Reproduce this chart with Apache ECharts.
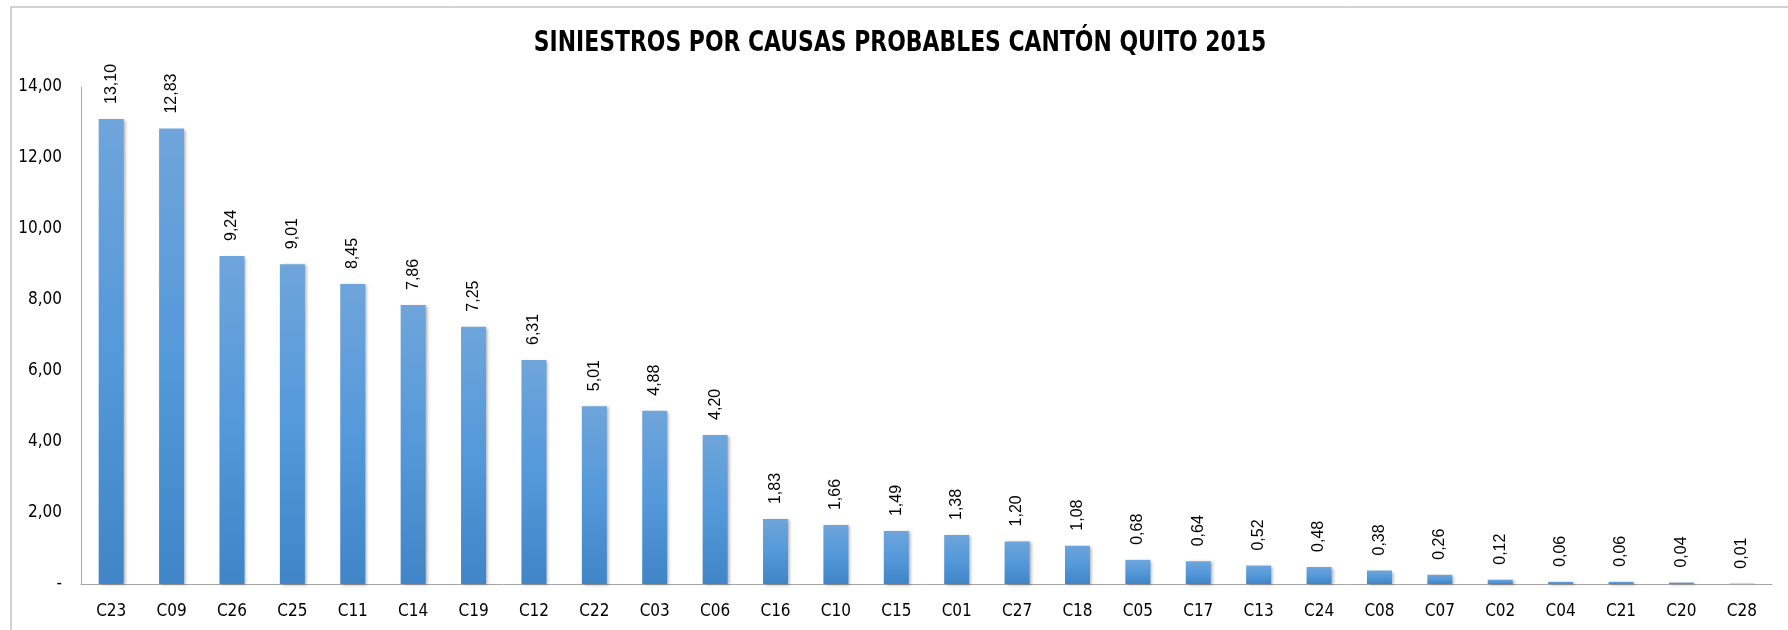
<!DOCTYPE html>
<html>
<head>
<meta charset="utf-8">
<title>Siniestros por causas probables</title>
<script src="https://cdn.jsdelivr.net/npm/echarts@6/dist/echarts.min.js"></script>
<style>
  html, body { margin: 0; padding: 0; background: #fff; }
  #chart { width: 1788px; height: 630px; }
</style>
</head>
<body>
<div id="chart"></div>
<script>
// causas (ordenadas de mayor a menor)
const categories = ['C23', 'C09', 'C26', 'C25', 'C11', 'C14', 'C19', 'C12', 'C22', 'C03',
  'C06', 'C16', 'C10', 'C15', 'C01', 'C27', 'C18', 'C05', 'C17', 'C13',
  'C24', 'C08', 'C07', 'C02', 'C04', 'C21', 'C20', 'C28'];
// porcentaje de siniestros
const values = [13.10, 12.83, 9.24, 9.01, 8.45, 7.86, 7.25, 6.31, 5.01, 4.88,
  4.20, 1.83, 1.66, 1.49, 1.38, 1.20, 1.08, 0.68, 0.64, 0.52,
  0.48, 0.38, 0.26, 0.12, 0.06, 0.06, 0.04, 0.01];
const yMin = 0;
const yMax = 14;
const yStep = 2;
const titleText = 'SINIESTROS POR CAUSAS PROBABLES CANTÓN QUITO 2015';

const axisFont = "'DejaVu Sans Condensed', 'DejaVu Sans', sans-serif";
const fmt = (v) => (v === 0 ? '-' : v.toFixed(2).replace('.', ','));

const chart = echarts.init(document.getElementById('chart'));
chart.setOption({
  animation: false,
  backgroundColor: '#fff',
  graphic: [
    {
      type: 'rect',
      shape: { x: 11, y: 7, width: 1800, height: 640 },
      style: { fill: 'none', stroke: '#a6a6a6', lineWidth: 1 },
      silent: true,
    },
    {
      // titulo (estrechado para parecerse a Calibri)
      type: 'text',
      x: 900,
      y: 44,
      scaleX: 0.87,
      style: {
        text: titleText,
        font: "bold 28px 'DejaVu Sans Condensed', 'DejaVu Sans', sans-serif",
        fill: '#000',
        align: 'center',
        verticalAlign: 'middle',
      },
      silent: true,
    },
  ],
  grid: { left: 81, right: 16, top: 87, bottom: 46, containLabel: false },
  xAxis: {
    type: 'category',
    data: categories,
    axisLine: { lineStyle: { color: '#a6a6a6', width: 1 } },
    axisTick: { show: false },
    axisLabel: {
      color: '#000',
      fontFamily: axisFont,
      fontSize: 17,
      margin: 19,
      interval: 0,
    },
  },
  yAxis: {
    type: 'value',
    min: yMin,
    max: yMax,
    interval: yStep,
    axisLine: { show: true, lineStyle: { color: '#a6a6a6', width: 1 } },
    axisTick: { show: false },
    splitLine: { show: false },
    axisLabel: {
      color: '#000',
      fontFamily: axisFont,
      fontSize: 17,
      margin: 19,
      formatter: fmt,
    },
  },
  series: [{
    type: 'bar',
    data: values,
    barWidth: 25,
    itemStyle: {
      color: new echarts.graphic.LinearGradient(0, 0, 0, 1, [
        { offset: 0, color: '#6ea5db' },
        { offset: 0.5, color: '#5499da' },
        { offset: 1, color: '#3f85c7' },
      ]),
      shadowColor: 'rgba(0,0,0,0.3)',
      shadowBlur: 3,
      shadowOffsetX: 2,
      shadowOffsetY: 1,
    },
    label: {
      show: true,
      position: 'top',
      rotate: 90,
      align: 'left',
      verticalAlign: 'middle',
      distance: 15,
      color: '#000',
      fontFamily: "'Liberation Sans', Arial, sans-serif",
      fontSize: 16,
      formatter: (p) => fmt(p.value),
    },
  }],
});
</script>
</body>
</html>
